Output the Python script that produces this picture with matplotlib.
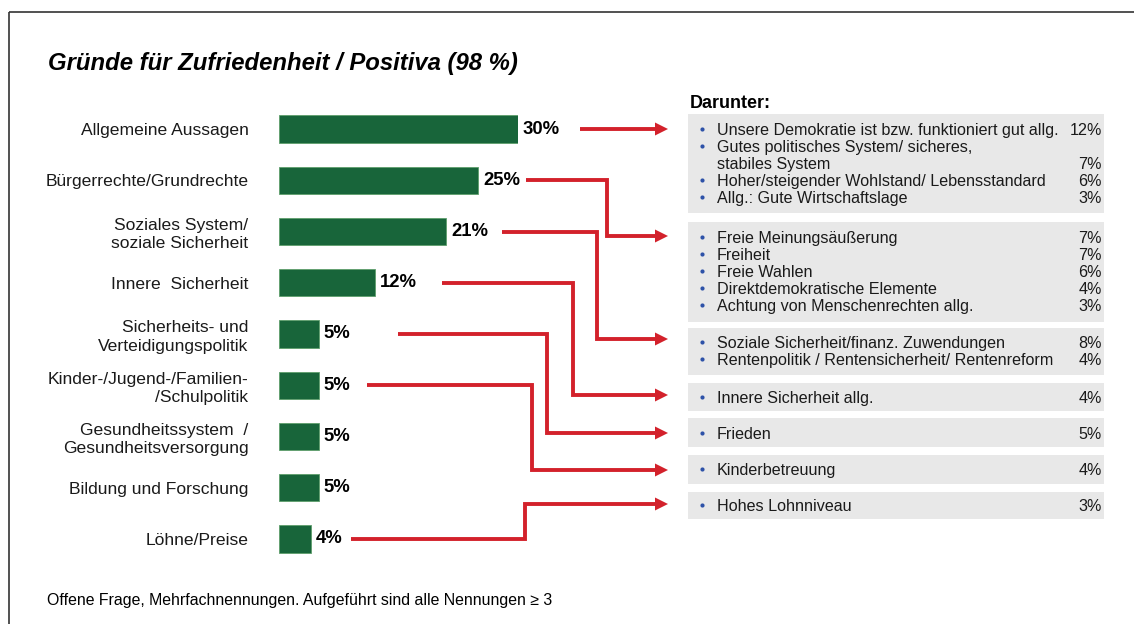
import matplotlib
matplotlib.use("Agg")
import matplotlib.pyplot as plt
from matplotlib.patches import Rectangle, Polygon

plt.rcParams['font.family'] = ['Liberation Sans', 'DejaVu Sans']

# ---------------- data ----------------
title = "Gründe für Zufriedenheit / Positiva (98 %)"
categories = ["Allgemeine Aussagen", "Bürgerrechte/Grundrechte",
              "Soziales System/\nsoziale Sicherheit", "Innere  Sicherheit",
              "Sicherheits- und\nVerteidigungspolitik",
              "Kinder-/Jugend-/Familien-\n/Schulpolitik",
              "Gesundheitssystem  /\nGesundheitsversorgung",
              "Bildung und Forschung", "Löhne/Preise"]
values = [30, 25, 21, 12, 5, 5, 5, 5, 4]

detail_header = "Darunter:"
detail_labels = [
    ["Unsere Demokratie ist bzw. funktioniert gut allg.",
     "Gutes politisches System/ sicheres,\nstabiles System",
     "Hoher/steigender Wohlstand/ Lebensstandard",
     "Allg.: Gute Wirtschaftslage"],
    ["Freie Meinungsäußerung", "Freiheit", "Freie Wahlen",
     "Direktdemokratische Elemente", "Achtung von Menschenrechten allg."],
    ["Soziale Sicherheit/finanz. Zuwendungen",
     "Rentenpolitik / Rentensicherheit/ Rentenreform"],
    ["Innere Sicherheit allg."],
    ["Frieden"],
    ["Kinderbetreuung"],
    ["Hohes Lohnniveau"],
]
detail_values = [[12, 7, 6, 3], [7, 7, 6, 4, 3], [8, 4], [4], [5], [4], [3]]
# which bar points to which detail box
arrow_source = [0, 1, 2, 3, 4, 5, 8]
footnote = "Offene Frage, Mehrfachnennungen. Aufgeführt sind alle Nennungen ≥ 3"

# ---------------- layout (pixels) ----------------
W, H = 1134, 624
GREEN = "#18653a"
RED = "#d3212b"
GRAY = "#e8e8e8"
BLUE = "#2e52a8"
TXT = "#1a1a1a"

fig = plt.figure(figsize=(W / 100, H / 100), dpi=100)
ov = fig.add_axes([0, 0, 1, 1])
ov.set_xlim(0, W)
ov.set_ylim(H, 0)
ov.axis("off")

# frame lines
ov.plot([9, 9], [12, H], color="#333333", lw=1.2, solid_capstyle="butt")
ov.plot([9, W], [12, 12], color="#333333", lw=1.2, solid_capstyle="butt")

ov.text(48, 70, title, fontsize=17.2, fontweight="bold", fontstyle="italic",
        va="baseline", ha="left")

# ---------------- bar chart ----------------
bar_left, bar_right = 279, 518
y_top, y_bot = 103.4, 564.6
bx = fig.add_axes([bar_left / W, 1 - y_bot / H, (bar_right - bar_left) / W,
                   (y_bot - y_top) / H])
bx.patch.set_alpha(0)
ypos = list(range(len(categories)))
bx.barh(ypos, values, height=0.53, color=GREEN, edgecolor="#5e9e6c", lw=0.6)
bx.set_xlim(0, 30)
bx.set_ylim(len(categories) - 0.5, -0.5)
bx.set_yticks(ypos)
bx.set_yticklabels(categories, fontsize=12.6, linespacing=1.25, color=TXT)
bx.tick_params(axis="y", length=0, pad=22)
bx.set_xticks([])
for s in bx.spines.values():
    s.set_visible(False)
for y, v in zip(ypos, values):
    bx.text(v + 0.6, y, f"{v}%", fontsize=13.3, fontweight="bold",
            va="center", ha="left")

# ---------------- detail boxes ----------------
ov.text(690, 108, detail_header, fontsize=13, fontweight="bold",
        va="baseline", ha="left")
box_tops = [114, 222, 328, 383, 418, 455, 492]
box_bots = [213, 322, 375, 411, 447, 484, 519]
first_line = [129, 237, 342, 397, 433, 469, 505]
line_step = 17
for b, (labels, vals) in enumerate(zip(detail_labels, detail_values)):
    ov.add_patch(Rectangle((688, box_tops[b]), 1104 - 688,
                           box_bots[b] - box_tops[b], color=GRAY, lw=0))
    y = first_line[b]
    for lab, v in zip(labels, vals):
        ov.scatter([702], [y], s=9, color=BLUE, lw=0, zorder=3)
        parts = lab.split("\n")
        for i, part in enumerate(parts):
            ov.text(717, y + i * line_step, part, fontsize=11.6, color=TXT,
                    va="center_baseline", ha="left")
        yv = y + (len(parts) - 1) * line_step
        ov.text(1102, yv, f"{v}%", fontsize=11.6, va="center_baseline",
                ha="right", color=TXT)
        y = yv + line_step

# ---------------- arrows ----------------
start_x = [580, 526, 502, 442, 398, 367, 351]
elbow_x = [None, 607, 597, 573, 547, 532, 525]
target_y = [129, 236, 339, 395, 433, 470, 504]
tip_x, base_x, half_h = 668, 655, 6.5
for k, src in enumerate(arrow_source):
    ys = H - bx.transData.transform((0, src))[1]  # overlay pixel coords
    ty = target_y[k]
    if elbow_x[k] is None:
        xs, yy = [start_x[k], base_x + 1], [ty, ty]
    else:
        xs = [start_x[k], elbow_x[k], elbow_x[k], base_x + 1]
        yy = [ys, ys, ty, ty]
    ov.plot(xs, yy, color=RED, lw=2.8, solid_joinstyle="miter",
            solid_capstyle="butt")
    ov.add_patch(Polygon([(base_x, ty - half_h), (tip_x, ty),
                          (base_x, ty + half_h)], closed=True, color=RED, lw=0))

ov.text(47, 605, footnote, fontsize=11.4, va="baseline", ha="left")

fig.savefig("out.png", dpi=100)
